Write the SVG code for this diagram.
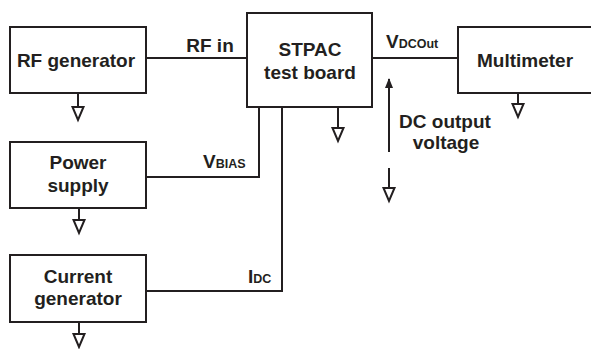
<svg xmlns="http://www.w3.org/2000/svg" width="591" height="349" viewBox="0 0 591 349">
<defs>
<style>
.box{fill:#fff;stroke:#231f20;stroke-width:2}
.ln{fill:none;stroke:#231f20;stroke-width:2}
.gnd{fill:#fff;stroke:#231f20;stroke-width:2;stroke-linejoin:miter}
text{font-family:"Liberation Sans",Arial,sans-serif;font-weight:bold;font-size:19px;fill:#231f20}
.c{text-anchor:middle}
.sub{font-size:12.5px}
</style>
<marker id="ah" viewBox="0 0 10 10" refX="9" refY="5" markerWidth="10" markerHeight="10" markerUnits="userSpaceOnUse" orient="auto">
<path d="M0,1 L10,5 L0,9 Z" fill="#231f20"/>
</marker>
</defs>
<rect width="591" height="349" fill="#fff"/>
<g id="connectors">
<line class="ln" x1="146" y1="58" x2="247" y2="58"/>
<line class="ln" x1="372" y1="58" x2="458" y2="58"/>
<polyline class="ln" points="259,107 259,177 146,177"/>
<polyline class="ln" points="282,107 282,291 146,291"/>
<line class="ln" x1="389" y1="152" x2="389" y2="79" marker-end="url(#ah)"/>
<text x="210" y="52" class="c">RF in</text>
<text x="386" y="48">V<tspan class="sub">DCOut</tspan></text>
<text x="203" y="168">V<tspan class="sub">BIAS</tspan></text>
<text x="248" y="283">I<tspan class="sub">DC</tspan></text>
<text x="445" y="128" class="c">DC output</text>
<text x="446" y="149" class="c">voltage</text>
</g>
<g id="grounds">
<path class="ln" d="M78,93 V107"/><path class="gnd" d="M72.5,107 H83.5 L78,120 Z"/>
<path class="ln" d="M338,107 V128"/><path class="gnd" d="M332.5,128 H343.5 L338,141 Z"/>
<path class="ln" d="M518,93 V104"/><path class="gnd" d="M512.5,104 H523.5 L518,117 Z"/>
<path class="ln" d="M389,168 V188"/><path class="gnd" d="M383.5,188 H394.5 L389,201 Z"/>
<path class="ln" d="M79,208 V220"/><path class="gnd" d="M73.5,220 H84.5 L79,233 Z"/>
<path class="ln" d="M79,322 V334"/><path class="gnd" d="M73.5,334 H84.5 L79,347 Z"/>
</g>
<g id="rf-generator">
<rect class="box" x="10" y="27" width="136" height="66"/>
<text x="76" y="67" class="c">RF generator</text>
</g>
<g id="stpac">
<rect class="box" x="247" y="13" width="125" height="94"/>
<text x="310" y="56" class="c">STPAC</text>
<text x="310" y="79" class="c">test board</text>
</g>
<g id="multimeter">
<rect class="box" x="458" y="27" width="145" height="66"/>
<text x="525" y="67" class="c">Multimeter</text>
</g>
<g id="power-supply">
<rect class="box" x="10" y="142" width="136" height="66"/>
<text x="78" y="169" class="c">Power</text>
<text x="78" y="192" class="c">supply</text>
</g>
<g id="current-generator">
<rect class="box" x="10" y="255" width="136" height="67"/>
<text x="78" y="283" class="c">Current</text>
<text x="78" y="305" class="c">generator</text>
</g>
</svg>
